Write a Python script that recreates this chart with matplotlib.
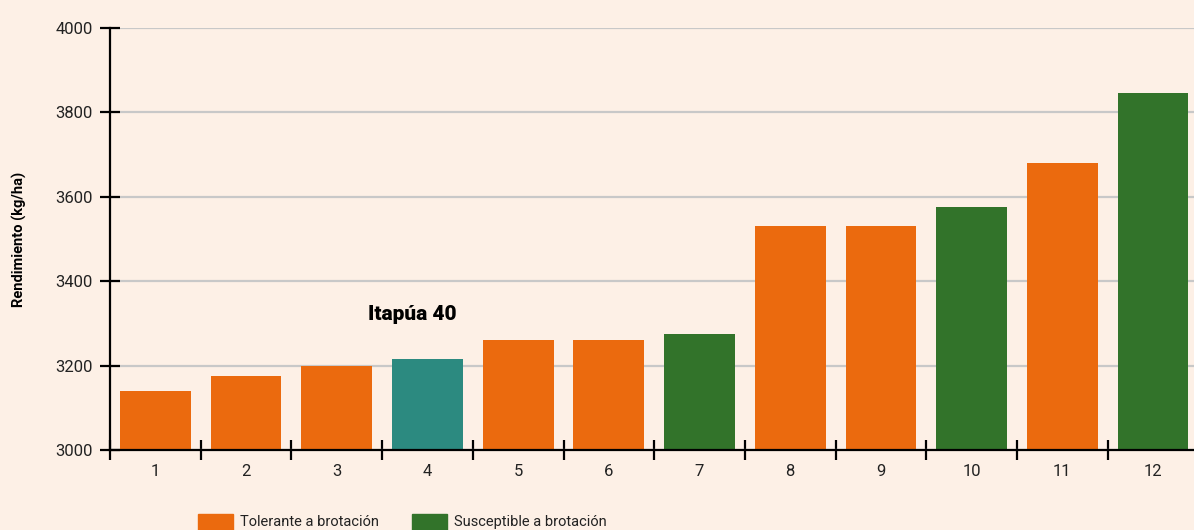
import matplotlib.pyplot as plt
from matplotlib.patches import Rectangle

plt.rcParams['font.family'] = ['Roboto', 'DejaVu Sans']

# rendimiento por variedad, ordenado de menor a mayor
variedades = [1, 2, 3, 4, 5, 6, 7, 8, 9, 10, 11, 12]
rendimiento = [3140, 3175, 3200, 3215, 3260, 3260, 3275, 3530, 3530, 3575, 3680, 3845]
grupo = ['tol', 'tol', 'tol', 'ref', 'tol', 'tol', 'sus', 'tol', 'tol', 'sus', 'tol', 'sus']

colores = {'tol': '#EB6A0E', 'sus': '#32732A', 'ref': '#2C8A80'}
leyenda = [('Tolerante a brotación', colores['tol']),
           ('Susceptible a brotación', colores['sus'])]
fondo = '#FDF0E6'

fig = plt.figure(figsize=(11.94, 5.30), dpi=100)
fig.patch.set_facecolor(fondo)
ax = fig.add_axes([110 / 1194, 80 / 530, 1084 / 1194, 422 / 530])
ax.set_facecolor('none')

ax.bar(variedades, [r - 3000 for r in rendimiento], bottom=3000, width=0.78,
       color=[colores[g] for g in grupo], zorder=2)

ax.set_xlim(0.5, 0.5 + 1084 / 90.7)
ax.set_ylim(3000, 4000)
ax.set_yticks(range(3000, 4001, 200))
ax.set_xticks(variedades)
ax.set_xticks([v - 0.5 for v in variedades], minor=True)

ax.tick_params(axis='x', which='major', length=0, pad=10, labelsize=12, colors='#222222')
ax.tick_params(axis='x', which='minor', direction='inout', length=15, width=1.6, color='black')
ax.tick_params(axis='y', which='major', direction='inout', length=15, width=1.6,
               labelsize=12, pad=5, labelcolor='#222222')

ax.grid(axis='y', color='#C8C8C8', linewidth=1.6, zorder=0)
ax.set_axisbelow(True)
for s in ['top', 'right']:
    ax.spines[s].set_visible(False)
for s in ['left', 'bottom']:
    ax.spines[s].set_linewidth(1.6)

ax.set_ylabel('Rendimiento (kg/ha)', fontsize=10.5, fontweight='bold')
ax.yaxis.set_label_coords(-0.0765, 0.5)

ax.text(4 - 0.66, 3216 + 105, 'Itapúa 40', fontsize=15, fontweight='heavy',
        ha='left', va='center')

# leyenda al pie
for x0, (nombre, col) in zip([198, 412], leyenda):
    fig.patches.append(Rectangle((x0 / 1194, 0), 35 / 1194, 16 / 530,
                                 transform=fig.transFigure, color=col))
    fig.text((x0 + 42) / 1194, 8 / 530, nombre, fontsize=10.5, va='center',
             color='#222222')

fig.savefig('out.png', dpi=100, facecolor=fondo)
